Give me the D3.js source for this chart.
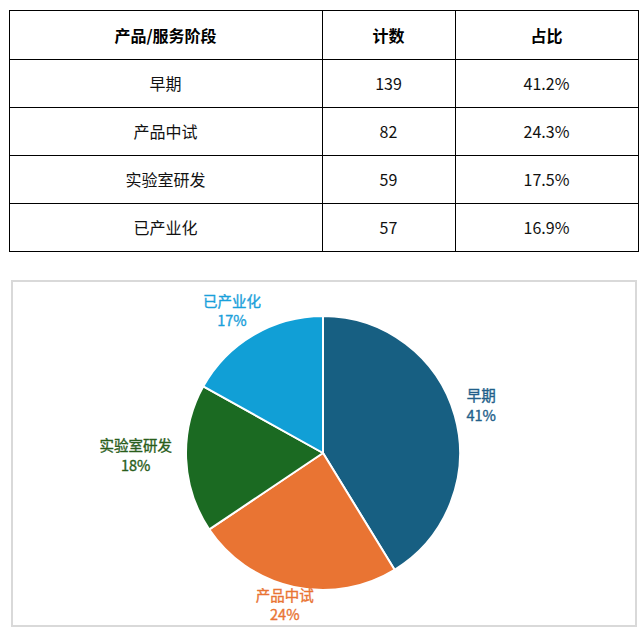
<!DOCTYPE html>
<html><head><meta charset="utf-8">
<script src="https://cdn.jsdelivr.net/npm/d3@7"></script>
<style>
html,body{margin:0;padding:0;background:#fff;}
svg{display:block;}
text{font-family:"Noto Sans CJK SC","Noto Sans",sans-serif;}
</style></head>
<body><svg id="c" width="644" height="633"></svg>
<script>
const headers = ["产品/服务阶段", "计数", "占比"];
const categories = ["早期", "产品中试", "实验室研发", "已产业化"];
const counts = [139, 82, 59, 57];
const shares = ["41.2%", "24.3%", "17.5%", "16.9%"];
const colors = ["#175F82", "#E97433", "#1B6A22", "#119FD6"];
const labelColors = ["#225F8A", "#E97433", "#2A5E1C", "#1AA0DA"];

const svg = d3.select("#c");

// ---------- Table ----------
const colEdges = [9, 322, 455, 638];
const tableTop = 10, headH = 49, rowH = 48;
const rowEdges = [tableTop, tableTop + headH];
categories.forEach((c, i) => rowEdges.push(tableTop + headH + rowH * (i + 1)));

const tg = svg.append("g");
tg.append("rect").attr("x", colEdges[0] + 0.5).attr("y", rowEdges[0] + 0.5)
  .attr("width", colEdges[3] - colEdges[0]).attr("height", rowEdges[rowEdges.length - 1] - rowEdges[0])
  .attr("fill", "none").attr("stroke", "#000").attr("stroke-width", 1);
rowEdges.slice(1, -1).forEach(y => tg.append("line")
  .attr("x1", colEdges[0]).attr("x2", colEdges[3]).attr("y1", y + 0.5).attr("y2", y + 0.5)
  .attr("stroke", "#000"));
colEdges.slice(1, -1).forEach(x => tg.append("line")
  .attr("x1", x + 0.5).attr("x2", x + 0.5).attr("y1", rowEdges[0]).attr("y2", rowEdges[rowEdges.length - 1])
  .attr("stroke", "#000"));

const colMid = i => (colEdges[i] + colEdges[i + 1]) / 2;
headers.forEach((h, i) => tg.append("text")
  .attr("x", colMid(i)).attr("y", (rowEdges[0] + rowEdges[1]) / 2)
  .attr("text-anchor", "middle").attr("dominant-baseline", "central")
  .attr("font-size", 16).attr("font-weight", "bold").attr("fill", "#000").text(h));
categories.forEach((c, r) => {
  const cy = (rowEdges[r + 1] + rowEdges[r + 2]) / 2;
  [c, String(counts[r]), shares[r]].forEach((v, i) => tg.append("text")
    .attr("x", colMid(i)).attr("y", cy)
    .attr("text-anchor", "middle").attr("dominant-baseline", "central")
    .attr("font-size", 16).attr("fill", "#111").text(v));
});

// ---------- Pie box ----------
svg.append("rect").attr("x", 12).attr("y", 281).attr("width", 624).attr("height", 345)
  .attr("fill", "#fff").attr("stroke", "#d9d9d9").attr("stroke-width", 2);

const cx = 323, cy = 453, r = 137;
const total = d3.sum(counts);
const data = categories.map((c, i) => ({ name: c, value: counts[i], color: colors[i], lc: labelColors[i] }));
const pie = d3.pie().sort(null).value(d => d.value);
const arcs = pie(data);
const arc = d3.arc().innerRadius(0).outerRadius(r);

const pg = svg.append("g").attr("transform", `translate(${cx},${cy})`);
pg.selectAll("path").data(arcs).join("path")
  .attr("d", arc).attr("fill", d => d.data.color)
  .attr("stroke", "#fff").attr("stroke-width", 2).attr("stroke-linejoin", "round");

const fs = 14.5, pad = 12;
arcs.forEach(a => {
  const m = (a.startAngle + a.endAngle) / 2;
  const dx = Math.sin(m), dy = -Math.cos(m);
  const pct = Math.round(a.data.value / total * 100) + "%";
  const hw = a.data.name.length * fs * 0.53, hh = fs * 1.25;
  const lx = dx * (r + pad) + dx * hw;
  const ly = dy * (r + pad) + dy * hh * 0.6;
  const t = pg.append("text").attr("text-anchor", "middle")
    .attr("font-size", fs).attr("fill", a.data.lc)
    .attr("stroke", a.data.lc).attr("stroke-width", 0.35);
  t.append("tspan").attr("x", lx).attr("y", ly - 15).attr("dominant-baseline", "central").text(a.data.name);
  t.append("tspan").attr("x", lx).attr("y", ly + 4.5).attr("dominant-baseline", "central").text(pct);
});
</script></body></html>
